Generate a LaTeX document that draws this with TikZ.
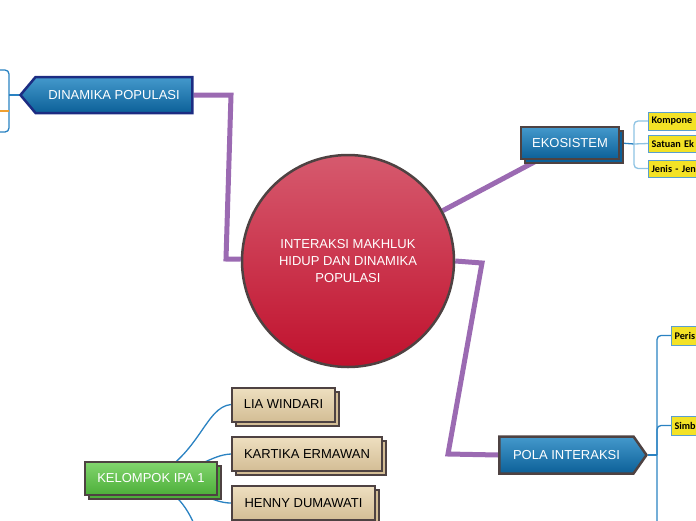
\documentclass[tikz,border=0pt]{standalone}
\usepackage{fontspec}
\setmainfont{Liberation Sans}
\newfontfamily\yfont{Carlito}
\usetikzlibrary{shapes.symbols,shadows}
\pgfdeclarelayer{background}
\pgfsetlayers{background,main}
\definecolor{purp}{HTML}{9B6AB2}
\definecolor{lineblue}{HTML}{2A82C2}
\definecolor{lightline}{HTML}{8EC3E3}
\definecolor{navy}{HTML}{1C2C82}
\definecolor{darkedge}{HTML}{4E4242}
\definecolor{bluetop}{HTML}{4499CC}
\definecolor{bluebot}{HTML}{0C6098}
\definecolor{browntop}{HTML}{EEDFC0}
\definecolor{brownbot}{HTML}{D3BD95}
\definecolor{greentop}{HTML}{82D56E}
\definecolor{greenbot}{HTML}{4DAF3A}
\definecolor{yellowfill}{HTML}{F3E226}
\definecolor{yellowedge}{HTML}{5A9FCF}
\definecolor{redtop}{HTML}{D65A6E}
\definecolor{redbot}{HTML}{C0112D}
\definecolor{orangeline}{HTML}{F0A030}
\tikzset{
  mainfont/.style={font=\fontsize{13}{17}\selectfont},
  bluebox/.style={mainfont, text=white, top color=bluetop, bottom color=bluebot, draw=darkedge, line width=2.5pt},
  shadowbox/.style={general shadow={shadow xshift=4pt, shadow yshift=-4pt, fill=#1, draw=darkedge, line width=2pt}},
  brownbox/.style={mainfont, text=black, rectangle, top color=browntop, bottom color=brownbot, draw=darkedge, line width=2pt, minimum height=34pt, shadowbox=brownbot},
  greenbox/.style={mainfont, text=white, rectangle, top color=greentop, bottom color=greenbot, draw=darkedge, line width=2pt, minimum height=33pt, shadowbox=greenbot},
  ybox/.style={font=\yfont\bfseries\fontsize{10.2}{12}\selectfont, text=black, fill=yellowfill, draw=yellowedge, line width=1pt, anchor=west, text width=60pt, align=left, inner xsep=3pt, minimum height=18pt},
  purpline/.style={draw=purp, line width=5pt},
  blueline/.style={draw=lineblue, line width=1.3pt},
  lightbline/.style={draw=lightline, line width=1.3pt},
}
\begin{document}
\begin{tikzpicture}[x=1pt,y=-1pt]
\useasboundingbox (0,0) rectangle (696,520);
\clip (0,0) rectangle (696,520);

% central topic
\node[circle, minimum size=212pt, top color=redtop, bottom color=redbot, draw=darkedge, line width=2.5pt, text=white, mainfont, align=center] (c) at (348,261) {INTERAKSI MAKHLUK\\HIDUP DAN DINAMIKA\\POPULASI};

% main topics
\node[bluebox, draw=navy, signal, signal to=west, signal pointer angle=100, minimum width=172pt, minimum height=36pt, inner xsep=6pt] (dp) at (114,95) {DINAMIKA POPULASI};
\node[bluebox, rectangle, minimum width=98pt, minimum height=32pt, shadowbox=bluebot] (eko) at (570,143) {EKOSISTEM};
\node[bluebox, signal, signal to=east, signal pointer angle=110, minimum width=147pt, minimum height=37pt] (pola) at (566.5,455) {POLA INTERAKSI};

% subtopics of EKOSISTEM
\node[ybox, minimum height=18pt] (y1) at (648,121) {Kompone};
\node[ybox, minimum height=17pt] (y2) at (648,143.5) {Satuan Ek};
\node[ybox, minimum height=17pt] (y3) at (648,168.5) {Jenis - Jen};

% subtopics of POLA INTERAKSI
\node[ybox, minimum height=19pt] (p1) at (671,335.5) {Peris};
\node[ybox, minimum height=19pt] (p2) at (671,425.5) {Simb};

% group
\node[greenbox, minimum width=132pt] (kel) at (151,478.5) {KELOMPOK IPA 1};
\node[brownbox, minimum width=103pt] (lia) at (283.5,404.5) {LIA WINDARI};
\node[brownbox, minimum width=150pt] (kar) at (307,454) {KARTIKA ERMAWAN};
\node[brownbox, minimum width=143pt] (hen) at (303.5,503) {HENNY DUMAWATI};

% helper coordinates
\coordinate (k1) at (231,95);
\coordinate (k2) at (226,259);
\coordinate (k3) at (482,263);
\coordinate (k4) at (448,454);
\coordinate (eb) at (634,144);
\coordinate (pb) at (657,455);
\coordinate (pend) at (657,530);
\coordinate (lb) at (9,95);
\coordinate (lt) at (-5,70);
\coordinate (lbot) at (-5,132);
\coordinate (lo) at (-5,111);
\coordinate (lob) at (9,111);
\coordinate (kdown) at (200,540);

\begin{pgfonlayer}{background}
  % purple main connectors
  \draw[purpline] (dp.east) -- (k1) -- (k2) -- (c);
  \draw[purpline] (c) -- (eko);
  \draw[purpline] (c.east) -- (k3) -- (k4) -- (pola.west);
  % EKOSISTEM branches
  \draw[blueline] (eko.east) -- (eb);
  \draw[lightbline, rounded corners=4pt] (y1.west) -| (eb) |- (y3.west);
  \draw[lightbline] (eb) -- (y2.west);
  % POLA INTERAKSI branches
  \draw[blueline] (pola.east) -- (pb);
  \draw[blueline, rounded corners=4pt] (p1.west) -| (pend);
  \draw[blueline, rounded corners=4pt] (p2.west) -| (pb);
  % DINAMIKA POPULASI branches
  \draw[blueline] (dp.west) -- (lb);
  \draw[blueline, rounded corners=4pt] (lt) -| (lb) |- (lbot);
  \draw[draw=orangeline, line width=1.3pt] (lo) -- (lob);
  % KELOMPOK branches
  \draw[blueline] (kel.center) .. controls (200,455) and (205,407) .. (lia.west);
  \draw[blueline] (kel.center) .. controls (200,470) and (210,455) .. (kar.west);
  \draw[blueline] (kel.center) .. controls (200,490) and (212,503) .. (hen.west);
  \draw[blueline] (kel.center) .. controls (180,495) and (190,510) .. (kdown);
\end{pgfonlayer}
\end{tikzpicture}
\end{document}
